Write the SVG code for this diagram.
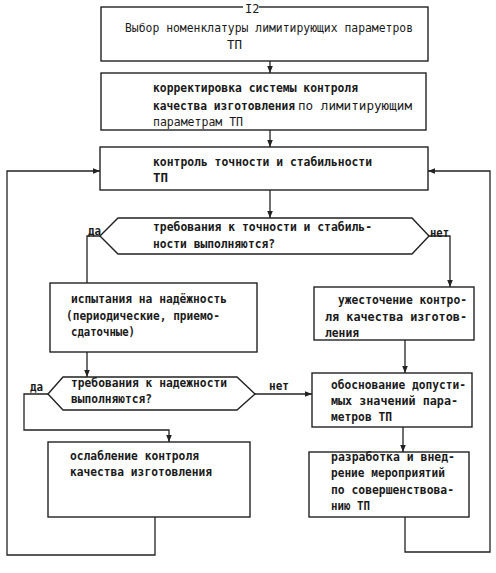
<svg xmlns="http://www.w3.org/2000/svg" width="496" height="573" viewBox="0 0 496 573">
<defs>
<marker id="ah" viewBox="0 0 10 10" refX="10" refY="5" markerWidth="7" markerHeight="7" orient="auto" markerUnits="userSpaceOnUse">
<path d="M0,1 L10,5 L0,9 Z" fill="#222"/>
</marker>
</defs>
<style>
.b{fill:#fff;stroke:#222;stroke-width:1.4}
.c{fill:none;stroke:#222;stroke-width:1.3}
.a{marker-end:url(#ah)}
text{font-family:"DejaVu Sans Mono","Liberation Mono",monospace;font-size:12px;font-weight:bold;fill:#1a1a1a}
.l{font-weight:normal}
</style>
<rect width="496" height="573" fill="#fff"/>
<g id="connectors">
<path class="c a" d="M270,61 V73"/>
<path class="c a" d="M270,130 V147"/>
<path class="c a" d="M270,190 V218"/>
<path class="c" d="M100,236 H87 V283"/>
<path class="c a" d="M428,236 H450 V287"/>
<path class="c a" d="M87,352 V377"/>
<path class="c a" d="M405,340 V373"/>
<path class="c a" d="M48,394 H24 V430 H169 V442"/>
<path class="c a" d="M255,394 H312"/>
<path class="c a" d="M403,427 V452"/>
<path class="c a" d="M155,517 V555 H7 V171 H100"/>
<path class="c a" d="M405,517 V552 H490 V171 H428"/>
</g>
<g id="n1">
<rect class="b" x="101" y="7" width="327" height="54"/>
<rect x="243" y="3" width="16" height="9" fill="#fff"/>
<text x="245" y="13" class="l">I2</text>
<text x="125" y="32" class="l" textLength="288" lengthAdjust="spacingAndGlyphs">Выбор номенклатуры лимитирующих параметров</text>
<text x="227" y="49" class="l" textLength="15" lengthAdjust="spacingAndGlyphs">ТП</text>
</g>
<g id="n2">
<rect class="b" x="101" y="73" width="325" height="57"/>
<text x="153" y="92" textLength="205" lengthAdjust="spacingAndGlyphs">корректировка системы контроля</text>
<text x="153" y="110" textLength="142" lengthAdjust="spacingAndGlyphs">качества изготовления</text>
<text x="298" y="110" class="l" textLength="114" lengthAdjust="spacingAndGlyphs">по лимитирующим</text>
<text x="153" y="126" class="l" textLength="90" lengthAdjust="spacingAndGlyphs">параметрам ТП</text>
</g>
<g id="n3">
<rect class="b" x="100" y="147" width="328" height="43"/>
<text x="153" y="166" textLength="219" lengthAdjust="spacingAndGlyphs">контроль точности и стабильности</text>
<text x="153" y="182" textLength="15" lengthAdjust="spacingAndGlyphs">ТП</text>
</g>
<g id="d1">
<polygon class="b" points="100,236 118,218 412,218 429,236 412,254 118,254"/>
<text x="153" y="231" textLength="219" lengthAdjust="spacingAndGlyphs">требования к точности и стабиль-</text>
<text x="153" y="248" textLength="122" lengthAdjust="spacingAndGlyphs">ности выполняются?</text>
<text x="88" y="235" textLength="13" lengthAdjust="spacingAndGlyphs">да</text>
<text x="430" y="237" textLength="19" lengthAdjust="spacingAndGlyphs">нет</text>
</g>
<g id="n4">
<rect class="b" x="50" y="283" width="207" height="69"/>
<text x="71" y="303" textLength="156" lengthAdjust="spacingAndGlyphs">испытания на надёжность</text>
<text x="66" y="320" textLength="154" lengthAdjust="spacingAndGlyphs">(периодические, приемо-</text>
<text x="71" y="336" textLength="64" lengthAdjust="spacingAndGlyphs">сдаточные)</text>
</g>
<g id="n5">
<rect class="b" x="314" y="287" width="160" height="53"/>
<text x="338" y="304" textLength="129" lengthAdjust="spacingAndGlyphs">ужесточение контро-</text>
<text x="325" y="321" textLength="142" lengthAdjust="spacingAndGlyphs">ля качества изготов-</text>
<text x="325" y="337" textLength="34" lengthAdjust="spacingAndGlyphs">ления</text>
</g>
<g id="d2">
<polygon class="b" points="48,394 63,377 237,377 255,394 237,410 63,410"/>
<text x="71" y="387" textLength="156" lengthAdjust="spacingAndGlyphs">требования к надежности</text>
<text x="71" y="403" textLength="81" lengthAdjust="spacingAndGlyphs">выполняются?</text>
<text x="30" y="391" textLength="13" lengthAdjust="spacingAndGlyphs">да</text>
<text x="269" y="390" textLength="20" lengthAdjust="spacingAndGlyphs">нет</text>
</g>
<g id="n6">
<rect class="b" x="312" y="373" width="160" height="54"/>
<text x="331" y="389" textLength="135" lengthAdjust="spacingAndGlyphs">обоснование допусти-</text>
<text x="331" y="405" textLength="127" lengthAdjust="spacingAndGlyphs">мых значений пара-</text>
<text x="331" y="421" textLength="61" lengthAdjust="spacingAndGlyphs">метров ТП</text>
</g>
<g id="n7">
<rect class="b" x="48" y="442" width="202" height="75"/>
<text x="70" y="460" textLength="129" lengthAdjust="spacingAndGlyphs">ослабление контроля</text>
<text x="70" y="476" textLength="142" lengthAdjust="spacingAndGlyphs">качества изготовления</text>
</g>
<g id="n8">
<rect class="b" x="309" y="452" width="160" height="65"/>
<text x="331" y="461" textLength="124" lengthAdjust="spacingAndGlyphs">разработка и внед-</text>
<text x="331" y="477" textLength="114" lengthAdjust="spacingAndGlyphs">рение мероприятий</text>
<text x="331" y="494" textLength="123" lengthAdjust="spacingAndGlyphs">по совершенствова-</text>
<text x="331" y="510" textLength="39" lengthAdjust="spacingAndGlyphs">нию ТП</text>
</g>
</svg>
